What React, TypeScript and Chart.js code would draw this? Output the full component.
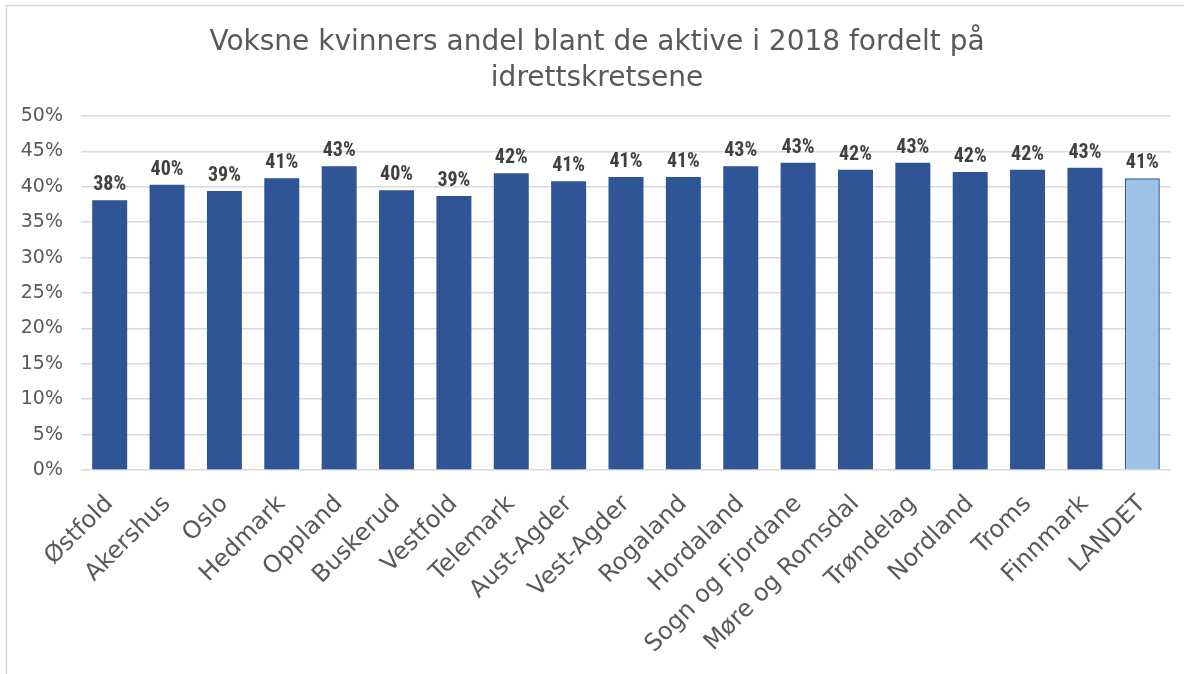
import React, { useEffect, useRef } from "react";
import { Chart, registerables } from "chart.js";

Chart.register(...registerables);

const categories = [
  "Østfold", "Akershus", "Oslo", "Hedmark", "Oppland", "Buskerud", "Vestfold",
  "Telemark", "Aust-Agder", "Vest-Agder", "Rogaland", "Hordaland",
  "Sogn og Fjordane", "Møre og Romsdal", "Trøndelag", "Nordland", "Troms",
  "Finnmark", "LANDET",
];
const values = [
  38.1, 40.3, 39.4, 41.2, 42.9, 39.5, 38.7, 41.9, 40.8, 41.4, 41.4, 42.9,
  43.4, 42.4, 43.4, 42.1, 42.4, 42.7, 41.2,
];
const yTicks = [0, 5, 10, 15, 20, 25, 30, 35, 40, 45, 50];
const titleLines = [
  "Voksne kvinners andel blant de aktive i 2018 fordelt på",
  "idrettskretsene",
];

const DARK = "#2F5597";
const LIGHT = "#9DC3E6";

export default function App() {
  const ref = useRef<HTMLCanvasElement | null>(null);

  useEffect(() => {
    document.body.style.margin = "0";
    const canvas = ref.current!;
    const n = categories.length;
    const colors = categories.map((_, i) => (i === n - 1 ? LIGHT : DARK));
    const borderW = categories.map((_, i) => (i === n - 1 ? 1.5 : 0));

    const decor = {
      id: "decor",
      beforeDraw(chart: any) {
        const ctx = chart.ctx;
        ctx.save();
        ctx.fillStyle = "#ffffff";
        ctx.fillRect(0, 0, chart.width, chart.height);
        ctx.strokeStyle = "#d9d9d9";
        ctx.lineWidth = 1.5;
        ctx.strokeRect(6.5, 5.5, chart.width + 20, chart.height + 20);
        ctx.fillStyle = "#595959";
        ctx.font = "28px 'DejaVu Sans', sans-serif";
        ctx.textAlign = "center";
        ctx.textBaseline = "alphabetic";
        ctx.fillText(titleLines[0], 597, 50);
        ctx.fillText(titleLines[1], 597, 86);
        ctx.restore();
      },
      afterDatasetsDraw(chart: any) {
        const ctx = chart.ctx;
        const meta = chart.getDatasetMeta(0);
        ctx.save();
        ctx.fillStyle = "#404040";
        ctx.font = "bold 20px 'Liberation Sans Narrow', 'Roboto Condensed', sans-serif";
        ctx.textAlign = "center";
        ctx.textBaseline = "alphabetic";
        meta.data.forEach((el: any, i: number) => {
          ctx.fillText(Math.round(values[i]) + "%", el.x, el.y - 10);
        });
        ctx.restore();
      },
    };

    const chart = new Chart(canvas, {
      type: "bar",
      data: {
        labels: categories,
        datasets: [
          {
            data: values,
            backgroundColor: colors,
            borderColor: DARK,
            borderWidth: borderW,
            categoryPercentage: 1,
            barPercentage: 0.61,
          },
        ],
      },
      options: {
        responsive: false,
        animation: false,
        layout: { padding: { top: 116, right: 13, left: 0, bottom: 0 } },
        plugins: {
          legend: { display: false },
          title: { display: false },
          tooltip: { enabled: false },
        },
        scales: {
          x: {
            grid: { display: false, drawTicks: false },
            border: { display: false },
            ticks: {
              color: "#595959",
              font: { size: 24, family: "'DejaVu Sans', sans-serif" },
              maxRotation: 45,
              minRotation: 45,
              padding: 20,
              autoSkip: false,
            },
            afterFit(s: any) {
              s.height = 204;
            },
          },
          y: {
            min: 0,
            max: 50,
            afterBuildTicks(s: any) {
              s.ticks = yTicks.map((v) => ({ value: v }));
            },
            grid: { color: "#d9d9d9", lineWidth: 1.5, drawTicks: false },
            border: { display: false },
            ticks: {
              color: "#595959",
              font: { size: 19, family: "'DejaVu Sans', sans-serif" },
              padding: 18,
              callback: (v: any) => v + "%",
            },
            afterFit(s: any) {
              s.width = 81;
            },
          },
        },
      },
      plugins: [decor],
    });
    return () => chart.destroy();
  }, []);

  return (
    <div style={{ position: "absolute", left: 0, top: 0, width: 1184, height: 674 }}>
      <canvas ref={ref} width={1184} height={674} />
    </div>
  );
}
